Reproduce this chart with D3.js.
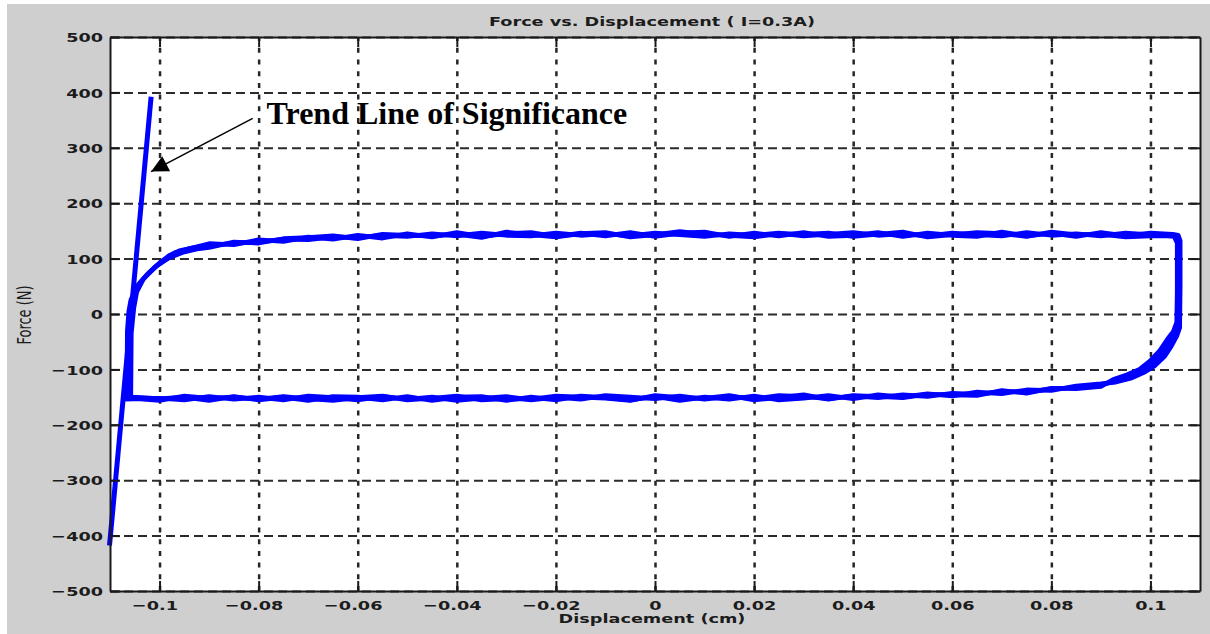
<!DOCTYPE html>
<html>
<head>
<meta charset="utf-8">
<script src="https://cdn.jsdelivr.net/npm/d3@7"></script>
<style>
  html, body { margin: 0; padding: 0; background: #ffffff; }
  svg { display: block; }
  .tick text { font-family: "DejaVu Sans", sans-serif; font-size: 13px; font-weight: bold; fill: #1c1c1c; }
</style>
</head>
<body>
<svg id="chart" width="1210" height="634"></svg>
<script>
// ---- axis ticks ----
const xTicks = [-0.1, -0.08, -0.06, -0.04, -0.02, 0, 0.02, 0.04, 0.06, 0.08, 0.1];
const xTickLabels = ["\u22120.1", "\u22120.08", "\u22120.06", "\u22120.04", "\u22120.02", "0", "0.02", "0.04", "0.06", "0.08", "0.1"];
const yTicks = [500, 400, 300, 200, 100, 0, -100, -200, -300, -400, -500];
const yTickLabels = ["500", "400", "300", "200", "100", "0", "\u2212100", "\u2212200", "\u2212300", "\u2212400", "\u2212500"];

// ---- measured force–displacement loops (three cycles) ----
// upper branch: displacement increasing (cm)
const upperX = [-0.09, -0.085, -0.08, -0.075, -0.07, -0.065, -0.06, -0.055, -0.05, -0.045,
  -0.04, -0.035, -0.03, -0.025, -0.02, -0.015, -0.01, -0.005, 0, 0.005,
  0.01, 0.015, 0.02, 0.025, 0.03, 0.035, 0.04, 0.045, 0.05, 0.055,
  0.06, 0.065, 0.07, 0.075, 0.08, 0.085, 0.09, 0.095, 0.10];
// force on the upper branch (N)
const upperF1 = [123, 128, 130, 135, 134, 139, 138, 142, 140, 145, 141, 146, 142, 141, 146, 142, 145, 141, 146, 143,
  140, 145, 142, 146, 141, 144, 147, 142, 145, 141, 146, 143, 141, 147, 142, 145, 141, 146, 143];
const upperF2 = [127, 125, 134, 131, 139, 135, 142, 137, 145, 139, 147, 140, 145, 147, 140, 146, 141, 147, 140, 146,
  148, 140, 146, 141, 147, 140, 142, 147, 140, 146, 142, 140, 148, 141, 146, 140, 147, 141, 146];
const upperF3 = [120, 130, 128, 136, 138, 141, 136, 144, 142, 141, 144, 138, 148, 143, 139, 145, 147, 139, 143, 149,
  144, 142, 139, 145, 144, 146, 140, 144, 148, 139, 143, 147, 145, 140, 148, 143, 144, 139, 141];

// lower branch: displacement decreasing (cm)
const lowerX = [0.09, 0.085, 0.08, 0.075, 0.07, 0.065, 0.06, 0.055, 0.05, 0.045,
  0.04, 0.035, 0.03, 0.025, 0.02, 0.015, 0.01, 0.005, 0, -0.005,
  -0.01, -0.015, -0.02, -0.025, -0.03, -0.035, -0.04, -0.045, -0.05, -0.055,
  -0.06, -0.065, -0.07, -0.075, -0.08, -0.085, -0.09, -0.095, -0.10];
// force on the lower branch (N)
const lowerF1 = [-128, -133, -135, -141, -140, -145, -143, -149, -146, -151, -148, -153, -149, -147, -153, -149, -154, -148, -153, -150,
  -147, -154, -150, -155, -149, -152, -156, -150, -154, -149, -155, -151, -148, -155, -150, -154, -149, -155, -152];
const lowerF2 = [-126, -130, -138, -137, -144, -141, -148, -144, -150, -146, -153, -147, -152, -155, -148, -154, -150, -156, -149, -155,
  -151, -148, -155, -150, -156, -149, -150, -156, -149, -155, -150, -149, -156, -150, -155, -149, -156, -150, -153];
const lowerF3 = [-131, -135, -134, -143, -138, -147, -146, -145, -151, -149, -147, -154, -146, -151, -155, -147, -152, -151, -147, -156,
  -152, -150, -148, -154, -153, -155, -148, -152, -155, -148, -151, -156, -153, -149, -154, -150, -152, -148, -156];

// reversal at the left end: [displacement, force], from bottom-left up to the upper branch
const leftTurn1 = [[-0.1040, -152], [-0.1062, -152], [-0.1061, -40], [-0.1058, 0], [-0.1054, 30], [-0.1040, 56],
  [-0.1020, 76], [-0.1000, 92], [-0.0980, 106], [-0.0960, 114], [-0.0930, 120]];
const leftTurn2 = [[-0.1035, -151], [-0.1058, -150], [-0.1057, -35], [-0.1052, 10], [-0.1046, 40], [-0.1032, 64],
  [-0.1010, 84], [-0.0990, 97], [-0.0970, 110], [-0.0940, 118]];
const leftTurn3 = [[-0.1045, -153], [-0.1066, -154], [-0.1065, -30], [-0.1062, 5], [-0.1058, 25], [-0.1046, 50],
  [-0.1026, 70], [-0.1004, 88], [-0.0980, 102], [-0.0950, 112], [-0.0920, 118]];

// reversal at the right end: from the upper branch down to the lower branch
const rightTurn1 = [[0.1040, 143], [0.1052, 141], [0.1058, 130], [0.1058, 60], [0.1056, -20], [0.1050, -36],
  [0.1038, -50], [0.1024, -71], [0.1004, -89], [0.0983, -104], [0.0957, -113], [0.0930, -121]];
const rightTurn2 = [[0.1045, 144], [0.1056, 142], [0.1060, 132], [0.1060, 50], [0.1059, -25], [0.1053, -40],
  [0.1042, -58], [0.1028, -77], [0.1008, -94], [0.0986, -106], [0.0960, -116], [0.0930, -123]];
const rightTurn3 = [[0.1035, 141], [0.1048, 140], [0.1054, 128], [0.1054, 40], [0.1053, -15], [0.1046, -32],
  [0.1034, -46], [0.1019, -66], [0.0999, -85], [0.0978, -100], [0.0952, -110], [0.0925, -118]];

// ---- straight trend line drawn over the loop ----
const trendLine = [[-0.1101, -418], [-0.1017, 392]];

// ---- annotation (data coordinates) ----
const noteText = "Trend Line of Significance";
const notePos = [-0.0784, 343];
const arrowFrom = [-0.0812, 353];
const arrowTo = [-0.1017, 257];

const titleText = "Force vs. Displacement ( I=0.3A)";
const xLabelText = "Displacement (cm)";
const yLabelText = "Force (N)";

(function draw() {
  const W = 1210, H = 634;
  const mLeft = 110, mRight = 1200, mTop = 37, mBottom = 591;
  const stretch = 1.36;   // wide axis lettering

  const zip = (xs, fs) => xs.map((v, i) => [v, fs[i]]);
  const cycles = [
    [...leftTurn1, ...zip(upperX, upperF1), ...rightTurn1, ...zip(lowerX, lowerF1)],
    [...leftTurn2, ...zip(upperX, upperF2), ...rightTurn2, ...zip(lowerX, lowerF2)],
    [...leftTurn3, ...zip(upperX, upperF3), ...rightTurn3, ...zip(lowerX, lowerF3)]
  ];

  const svg = d3.select("#chart");

  const x = d3.scaleLinear().domain([-0.11, 0.11]).range([mLeft, mRight]);
  const y = d3.scaleLinear().domain([-500, 500]).range([mBottom, mTop]);

  // figure background
  svg.append("rect").attr("x", 7).attr("y", 4).attr("width", W - 7).attr("height", H - 4)
    .attr("fill", "#cfcfcf");
  // axes background
  svg.append("rect").attr("x", mLeft).attr("y", mTop).attr("width", mRight - mLeft)
    .attr("height", mBottom - mTop).attr("fill", "#ffffff");

  // grid
  const gridX = svg.append("g").attr("transform", `translate(0,${mBottom})`)
    .call(d3.axisBottom(x).tickValues(xTicks).tickSize(-(mBottom - mTop)).tickFormat(""));
  gridX.select(".domain").remove();
  gridX.selectAll("line").attr("stroke", "#262626").attr("stroke-width", 2.5)
    .attr("stroke-dasharray", "5,6.7");

  const gridY = svg.append("g").attr("transform", `translate(${mLeft},0)`)
    .call(d3.axisLeft(y).tickValues(yTicks).tickSize(-(mRight - mLeft)).tickFormat(""));
  gridY.select(".domain").remove();
  gridY.selectAll("line").attr("stroke", "#2b2b2b").attr("stroke-width", 2)
    .attr("stroke-dasharray", "9,5");

  // hysteresis loops
  const line = d3.line().x(d => x(d[0])).y(d => y(d[1]));
  svg.append("g").selectAll("path").data(cycles).join("path")
    .attr("d", d => line(d) + "Z")
    .attr("fill", "none")
    .attr("stroke", "#0000ff")
    .attr("stroke-width", 4.6)
    .attr("stroke-linejoin", "round");

  // trend line
  svg.append("path").attr("d", line(trendLine))
    .attr("fill", "none").attr("stroke", "#0000ff").attr("stroke-width", 5);

  // frame with inward ticks
  const tickLen = 10;
  const axB = svg.append("g").attr("transform", `translate(0,${mBottom})`)
    .call(d3.axisBottom(x).tickValues(xTicks).tickSizeInner(-tickLen).tickSizeOuter(0)
      .tickFormat((d, i) => xTickLabels[i]));
  axB.selectAll("text")
    .attr("y", 0).attr("dy", null)
    .attr("transform", (d, i) => `translate(${xTickLabels[i].startsWith("\u2212") ? -5 : 0},18.5) scale(${stretch},1)`);

  const axT = svg.append("g").attr("transform", `translate(0,${mTop})`)
    .call(d3.axisTop(x).tickValues(xTicks).tickSizeInner(-tickLen).tickSizeOuter(0).tickFormat(""));

  const axL = svg.append("g").attr("transform", `translate(${mLeft},0)`)
    .call(d3.axisLeft(y).tickValues(yTicks).tickSizeInner(-tickLen).tickSizeOuter(0)
      .tickFormat((d, i) => yTickLabels[i]));
  axL.selectAll("text")
    .attr("x", 0).attr("dy", "0.36em")
    .attr("transform", `translate(-7,0) scale(${stretch},1)`);

  const axR = svg.append("g").attr("transform", `translate(${mRight},0)`)
    .call(d3.axisRight(y).tickValues(yTicks).tickSizeInner(-tickLen).tickSizeOuter(0).tickFormat(""));

  [axB, axT, axL, axR].forEach(g => {
    g.select(".domain").attr("stroke", "#1a1a1a").attr("stroke-width", 2);
    g.selectAll(".tick line").attr("stroke", "#1a1a1a").attr("stroke-width", 2);
  });

  // titles
  const labelFont = "'DejaVu Sans', sans-serif";
  const label = (tf, txt, weight) => svg.append("text")
    .attr("transform", tf)
    .attr("text-anchor", "middle").attr("font-family", labelFont).attr("font-size", 13)
    .attr("font-weight", weight).attr("fill", "#1c1c1c").text(txt);

  label(`translate(652,25.5) scale(${stretch},1)`, titleText, "bold");
  label(`translate(652,622.5) scale(${stretch},1)`, xLabelText, "bold");
  label(`translate(31,315) scale(1.5,1) rotate(-90)`, yLabelText, "normal");

  // annotation
  svg.append("defs").append("marker")
    .attr("id", "head").attr("viewBox", "0 0 10 10").attr("refX", 10).attr("refY", 5)
    .attr("markerWidth", 21).attr("markerHeight", 17).attr("markerUnits", "userSpaceOnUse")
    .attr("orient", "auto")
    .append("path").attr("d", "M0,0 L10,5 L0,10 Z").attr("fill", "#000");

  svg.append("line")
    .attr("x1", x(arrowFrom[0])).attr("y1", y(arrowFrom[1]))
    .attr("x2", x(arrowTo[0])).attr("y2", y(arrowTo[1]))
    .attr("stroke", "#000").attr("stroke-width", 1.5)
    .attr("marker-end", "url(#head)");

  svg.append("text")
    .attr("x", x(notePos[0])).attr("y", y(notePos[1]))
    .attr("font-family", "'Liberation Serif', 'Times New Roman', serif")
    .attr("font-weight", "bold").attr("font-size", 32).attr("fill", "#000")
    .text(noteText);
})();
</script>
</body>
</html>
